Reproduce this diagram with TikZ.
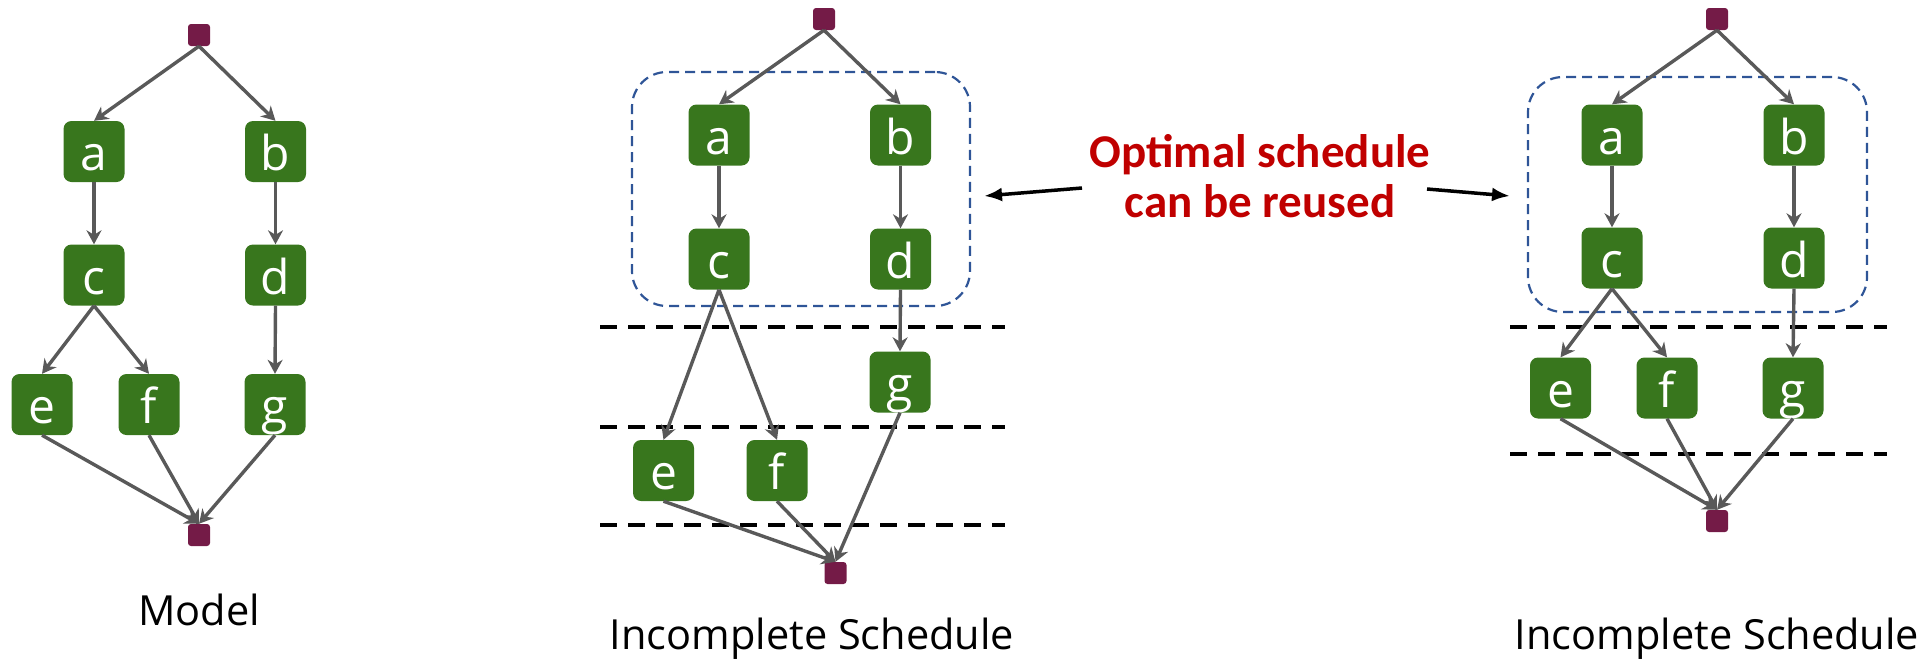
\documentclass[tikz,border=0pt]{standalone}
\usepackage{fontspec}
\setmainfont{Open Sans}
\newfontfamily\carl{Carlito}
\usetikzlibrary{arrows.meta}
\definecolor{taskgreen}{RGB}{56,118,29}
\definecolor{termred}{RGB}{116,27,71}
\definecolor{edgegrey}{RGB}{89,89,89}
\definecolor{groupblue}{RGB}{47,85,151}
\definecolor{notered}{RGB}{192,0,0}
\tikzset{
  task/.style={fill=taskgreen, draw=none, rounded corners=8pt, minimum width=61pt, minimum height=61pt,
    inner sep=0pt, text=white, font=\fontsize{48}{48}\selectfont, text height=42pt, text depth=4pt},
  term/.style={fill=termred, draw=none, rounded corners=3pt, minimum size=22pt, inner sep=0pt},
  edge/.style={draw=edgegrey, line width=3.4pt, -{Stealth[length=14pt,width=15pt,inset=4.5pt]}},
  level/.style={draw=black, line width=4pt, dash pattern=on 17pt off 11pt},
  group/.style={draw=groupblue, line width=2.2pt, dash pattern=on 10pt off 6pt, rounded corners=35pt,
    inner sep=0pt, fill=none},
  caption/.style={anchor=base, inner sep=0pt, font=\fontsize{41.5}{41.5}\selectfont, text=black},
  note/.style={anchor=base, inner sep=0pt, font=\carl\bfseries\fontsize{47}{47}\selectfont, text=notered},
  pointer/.style={draw=black, line width=3.5pt, -{Latex[length=18pt,width=14pt]}},
}
\begin{document}
\begin{tikzpicture}[x=1pt,y=-1pt]
\useasboundingbox (0,0) rectangle (1926,659);

% ---------- Model ----------
\node[term] (ms) at (199,35) {};
\node[task] (ma) at (94,151.5) {a};
\node[task] (mb) at (275.5,151.5) {b};
\node[task] (mc) at (94,275) {c};
\node[task] (md) at (275.5,275) {d};
\node[task] (me) at (42,404.5) {e};
\node[task] (mf) at (149,404.5) {f};
\node[task] (mg) at (275,404.5) {g};
\node[term] (mt) at (199,535) {};
\draw[edge] (ms.south) -- (ma.north);
\draw[edge] (ms.south) -- (mb.north);
\draw[edge] (ma.south) -- (mc.north);
\draw[edge] (mb.south) -- (md.north);
\draw[edge] (mc.south) -- (me.north);
\draw[edge] (mc.south) -- (mf.north);
\draw[edge] (md.south) -- (mg.north);
\draw[edge] (me.south) -- (mt.north);
\draw[edge] (mf.south) -- (mt.north);
\draw[edge] (mg.south) -- (mt.north);
\node[caption] (mcap) at (199,625) {Model};

% ---------- Middle schedule ----------
\node[group, minimum width=338pt, minimum height=234pt] (g1) at (801,189) {};
\draw[level] (600,327) -- (1005,327);
\draw[level] (600,427) -- (1005,427);
\draw[level] (600,524.5) -- (1005,524.5);
\node[term] (ss) at (824,19) {};
\node[task] (sa) at (719,135) {a};
\node[task] (sb) at (900.5,135) {b};
\node[task] (sc) at (719,259) {c};
\node[task] (sd) at (900.5,259) {d};
\node[task] (sg) at (900,382) {g};
\node[task] (se) at (663.5,470.5) {e};
\node[task] (sf) at (777,470.5) {f};
\node[term] (st) at (835.5,573) {};
\draw[edge] (ss.south) -- (sa.north);
\draw[edge] (ss.south) -- (sb.north);
\draw[edge] (sa.south) -- (sc.north);
\draw[edge] (sb.south) -- (sd.north);
\draw[edge] (sc.south) -- (se.north);
\draw[edge] (sc.south) -- (sf.north);
\draw[edge] (sd.south) -- (sg.north);
\draw[edge] (se.south) -- (st.north);
\draw[edge] (sf.south) -- (st.north);
\draw[edge] (sg.south) -- (st.north);
\node[caption] (scap) at (812,649) {Incomplete Schedule};

% ---------- Right schedule ----------
\node[group, minimum width=339pt, minimum height=235pt] (g2) at (1697.5,194.5) {};
\draw[level] (1510,327) -- (1887,327);
\draw[level] (1510,454) -- (1887,454);
\node[term] (rs) at (1717,19) {};
\node[task] (ra) at (1612,135) {a};
\node[task] (rb) at (1794,135) {b};
\node[task] (rc) at (1612,258) {c};
\node[task] (rd) at (1794,258) {d};
\node[task] (re) at (1560.5,388) {e};
\node[task] (rf) at (1667,388) {f};
\node[task] (rg) at (1793,388) {g};
\node[term] (rt) at (1717,521) {};
\draw[edge] (rs.south) -- (ra.north);
\draw[edge] (rs.south) -- (rb.north);
\draw[edge] (ra.south) -- (rc.north);
\draw[edge] (rb.south) -- (rd.north);
\draw[edge] (rc.south) -- (re.north);
\draw[edge] (rc.south) -- (rf.north);
\draw[edge] (rd.south) -- (rg.north);
\draw[edge] (re.south) -- (rt.north);
\draw[edge] (rf.south) -- (rt.north);
\draw[edge] (rg.south) -- (rt.north);
\node[caption] (rcap) at (1717,649) {Incomplete Schedule};

% ---------- Note ----------
\node[note] (n1) at (1260,167) {Optimal schedule};
\node[note] (n2) at (1260,217) {can be reused};
\coordinate (l0) at (1082,188);
\coordinate (l1) at (984,196);
\coordinate (r0) at (1427,189);
\coordinate (r1) at (1510,196);
\draw[pointer] (l0) -- (l1);
\draw[pointer] (r0) -- (r1);
\end{tikzpicture}
\end{document}
